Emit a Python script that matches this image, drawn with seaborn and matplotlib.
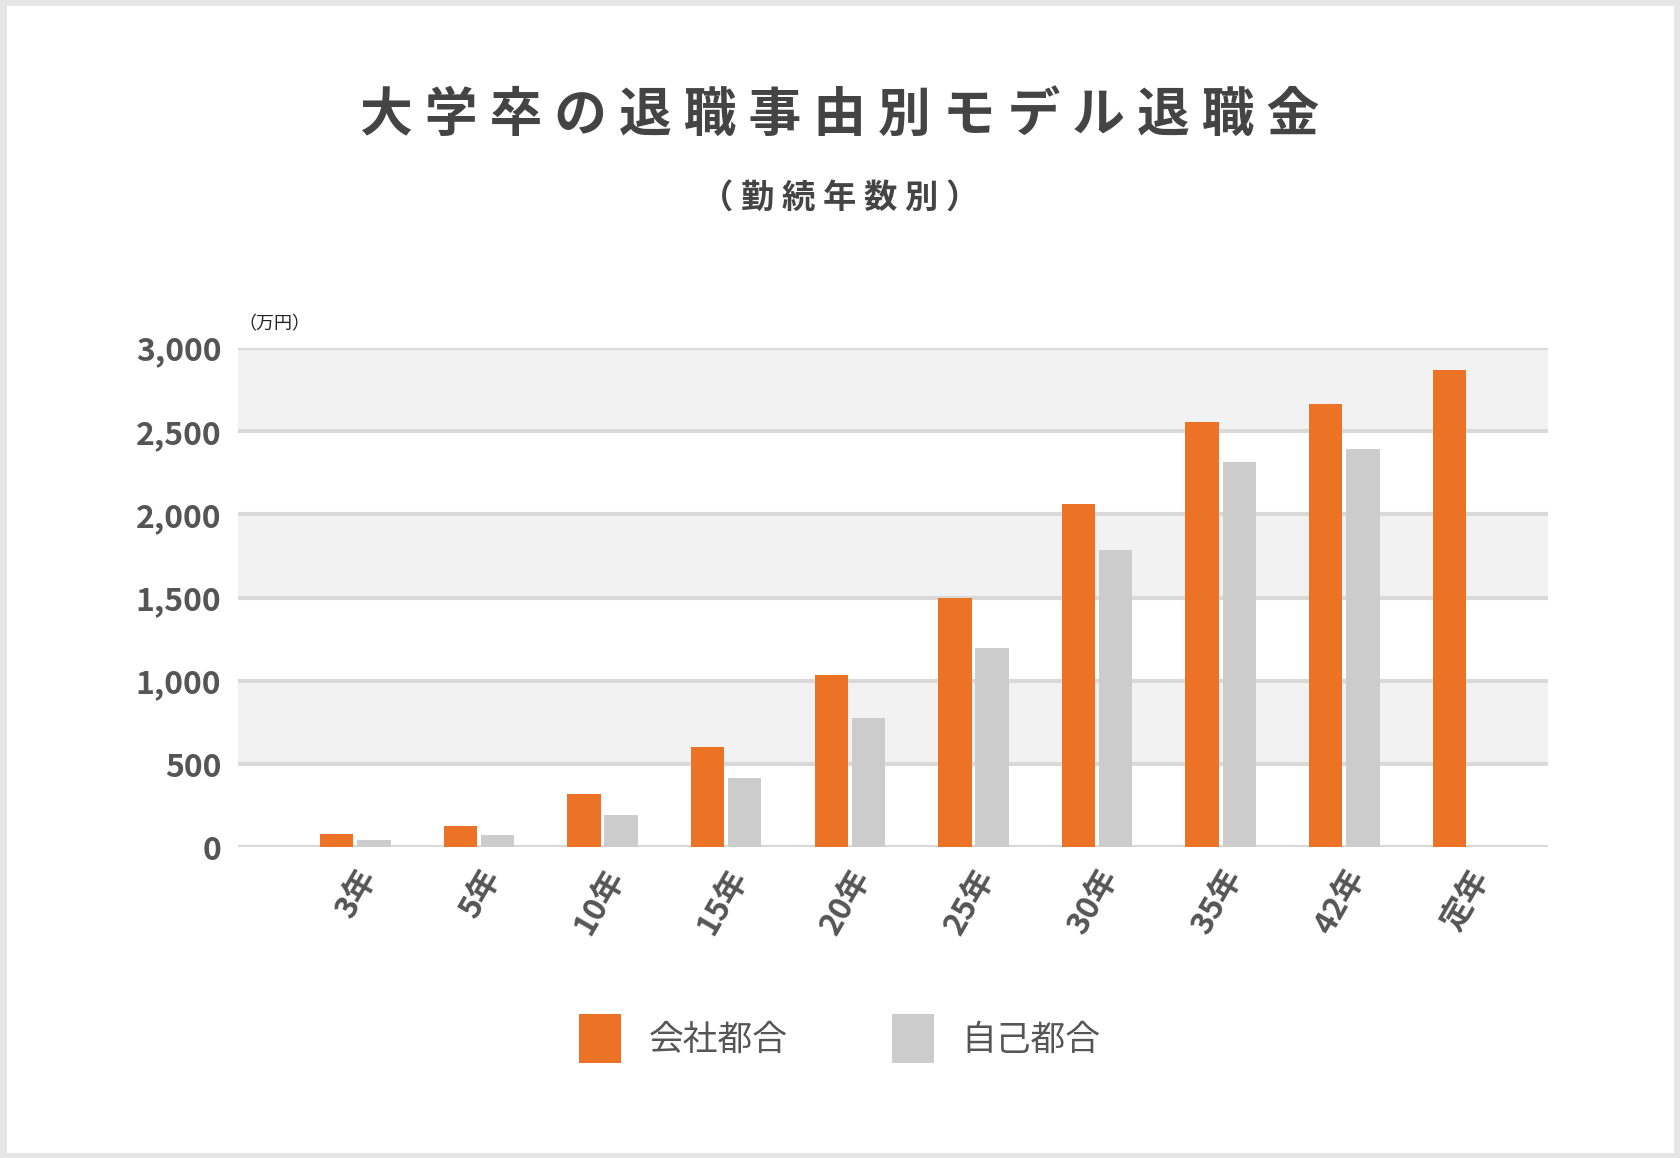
import matplotlib
matplotlib.use("Agg")
import matplotlib.pyplot as plt
import seaborn as sns
import pandas as pd
import numpy as np
from matplotlib.patches import Rectangle

categories = ["3年", "5年", "10年", "15年", "20年", "25年", "30年", "35年", "42年", "定年"]
company = [80, 130, 320, 600, 1035, 1500, 2065, 2555, 2665, 2870]
self_ = [45, 75, 195, 415, 775, 1195, 1785, 2315, 2395, np.nan]
series_names = ["会社都合", "自己都合"]
yticks = [0, 500, 1000, 1500, 2000, 2500, 3000]

sns.set_theme(style="white")
plt.rcParams['font.family'] = ['Noto Sans CJK JP', 'DejaVu Sans']

df = pd.DataFrame({
    "cat": categories * 2,
    "val": company + self_,
    "series": [series_names[0]] * len(categories) + [series_names[1]] * len(categories),
})

fig = plt.figure(figsize=(16.8, 11.58), dpi=100)
fig.patches.append(Rectangle((0.002, 0.002), 0.996, 0.996, transform=fig.transFigure,
                             fill=False, edgecolor="#e6e6e6", linewidth=5))
ax = fig.add_axes([0.1416, 0.2683, 0.78, 0.4311])
for lo in (500, 1500, 2500):
    ax.axhspan(lo, lo + 500, color="#f2f2f2", zorder=0, lw=0)
for t in yticks:
    ax.axhline(t, color="#d9d9d9", lw=3, zorder=1)

sns.barplot(data=df, x="cat", y="val", hue="series", palette=["#ec7226", "#cccccc"],
            saturation=1, linewidth=0, ax=ax, width=0.6, gap=0.1, legend=True, zorder=2)
ax.set_ylim(0, 3000)
ax.set_xlim(-0.95, len(categories) - 0.35)
ax.set_yticks(yticks)
ax.set_yticklabels([f"{t:,}" for t in yticks], fontsize=23, fontweight="bold", color="#555555")
ax.set_xticks(range(len(categories)))
ax.set_xticklabels(categories, rotation=60, fontsize=23, fontweight="bold", color="#555555",
                   ha="right", rotation_mode="anchor")
ax.tick_params(axis="both", length=0, pad=12)
ax.set_xlabel("")
ax.set_ylabel("")
for s in ax.spines.values():
    s.set_visible(False)

leg = ax.get_legend()
h, l = ax.get_legend_handles_labels()
leg.remove()
fig.legend(h, l, loc="center", bbox_to_anchor=(0.5, 0.103), ncol=2, frameon=False,
           fontsize=25, handlelength=1.2, handleheight=1.8, columnspacing=3, handletextpad=0.8,
           labelcolor="#555555")

fig.text(0.5, 0.9, "大 学 卒 の 退 職 事 由 別 モ デ ル 退 職 金", ha="center", va="center",
         fontsize=38, fontweight="bold", color="#444444")
fig.text(0.5, 0.828, "（ 勤 続 年 数 別 ）", ha="center", va="center",
         fontsize=24, fontweight="bold", color="#444444")
fig.text(0.142, 0.72, "（万円）", ha="left", va="center", fontsize=13, color="#222222")

fig.savefig("out.png", dpi=100, facecolor="white")
